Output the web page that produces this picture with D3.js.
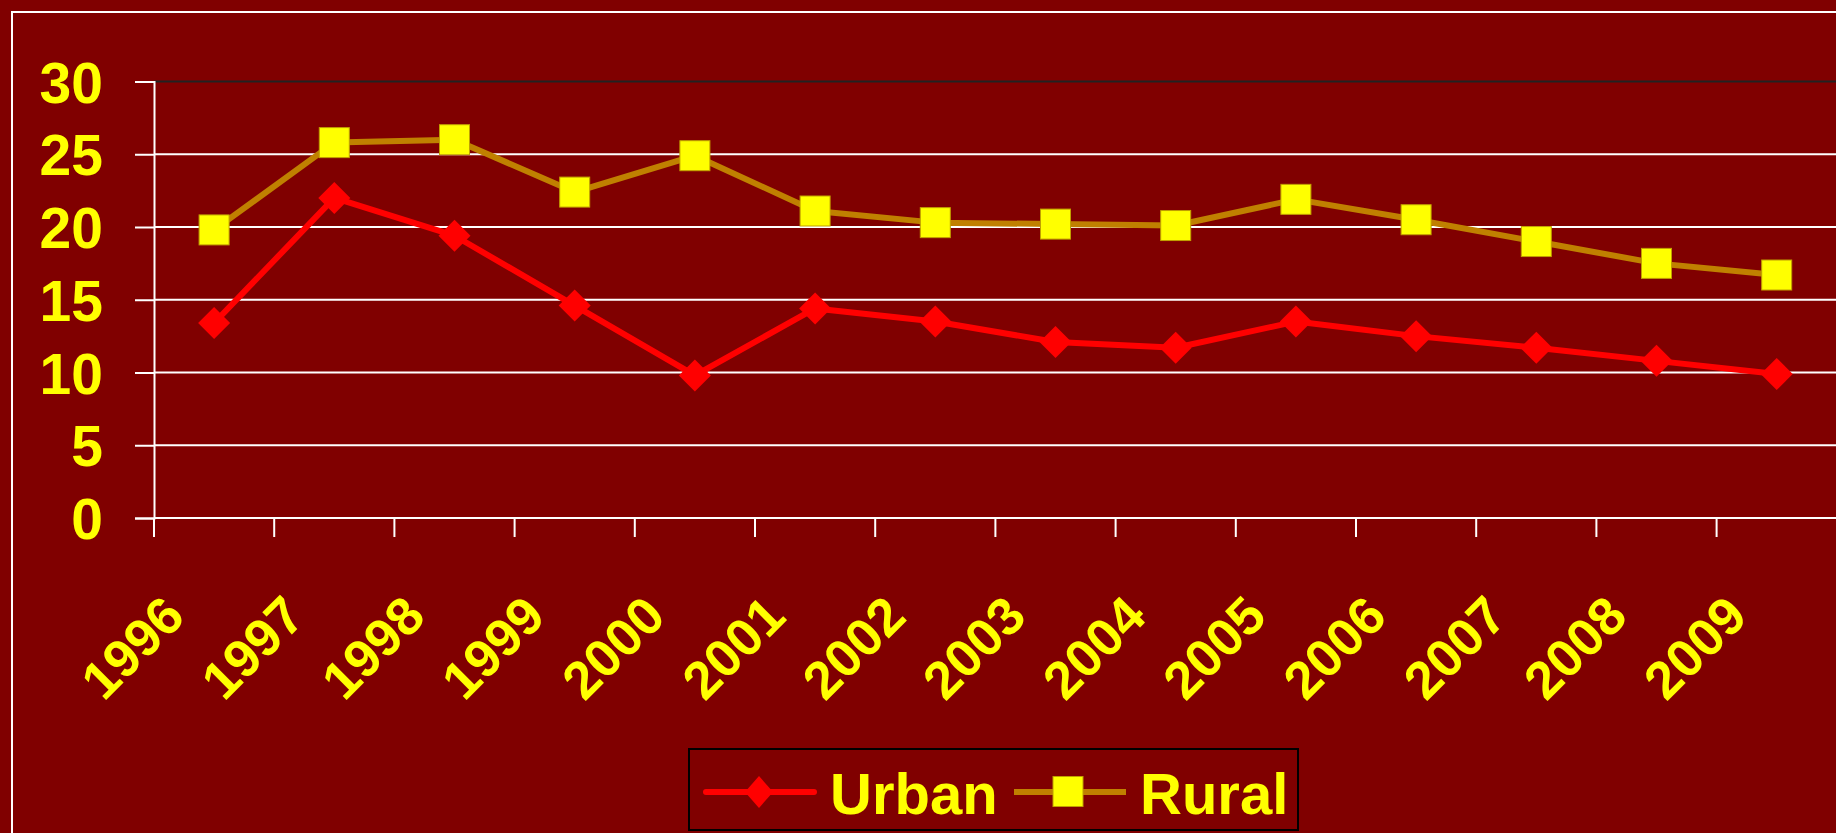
<!DOCTYPE html>
<html>
<head>
<meta charset="utf-8">
<script src="https://cdn.jsdelivr.net/npm/d3@7"></script>
<style>
  html, body { margin: 0; padding: 0; background: #800000; overflow: hidden; }
  text { font-family: "Liberation Sans", Arial, sans-serif; font-weight: bold; }
</style>
</head>
<body>
<div id="chart"></div>
<script>
var years = ["1996", "1997", "1998", "1999", "2000", "2001", "2002", "2003", "2004", "2005", "2006", "2007", "2008", "2009"];
var urban = [13.4, 22.0, 19.4, 14.6, 9.8, 14.4, 13.5, 12.1, 11.7, 13.5, 12.5, 11.7, 10.8, 9.9];
var rural = [19.8, 25.8, 26.0, 22.4, 24.9, 21.1, 20.3, 20.2, 20.1, 21.9, 20.5, 19.0, 17.5, 16.7];
var yTicks = [0, 5, 10, 15, 20, 25, 30];
var seriesNames = ["Urban", "Rural"];

var width = 1836;
var height = 833;
var plotLeft = 154;
var plotTop = 81.5;
var plotBottom = 518;

var yellow = "#ffff00";
var red = "#ff0000";
var gold = "#c08000";
var lineWidth = 6;

var svg = d3
  .select("#chart")
  .append("svg")
  .attr("width", width)
  .attr("height", height);

svg.append("rect").attr("width", width).attr("height", height).attr("fill", "#800000");

/* outer chart frame */
svg
  .append("rect")
  .attr("x", 12)
  .attr("y", 12)
  .attr("width", width + 20)
  .attr("height", height + 20)
  .attr("fill", "none")
  .attr("stroke", "#ffffff")
  .attr("stroke-width", 2);

/* Scale */
var xScale = d3.scaleBand().domain(years).range([plotLeft, plotLeft + years.length * 120.2]);
var yScale = d3.scaleLinear().domain([0, 30]).range([plotBottom, plotTop]);

/* grid */
svg
  .append("g")
  .selectAll("line")
  .data(yTicks.filter((d) => d > 0))
  .enter()
  .append("line")
  .attr("x1", plotLeft)
  .attr("x2", width)
  .attr("y1", (d) => yScale(d))
  .attr("y2", (d) => yScale(d))
  .attr("stroke", (d) => (d === 30 ? "#222222" : "#ffffff"))
  .attr("stroke-width", 2);

/* y axis */
var yAxis = d3.axisLeft(yScale).tickValues(yTicks).tickSize(19).tickPadding(32);
var yg = svg.append("g").attr("transform", `translate(${plotLeft},0)`).call(yAxis);
yg.select(".domain").attr("stroke", "#ffffff").attr("stroke-width", 2);
yg.selectAll(".tick line").attr("stroke", "#ffffff").attr("stroke-width", 2);
yg.selectAll(".tick text")
  .attr("fill", yellow)
  .attr("font-size", 57)
  .attr("font-family", "Liberation Sans, Arial, sans-serif")
  .attr("font-weight", "bold")
  .attr("dy", "0.36em");

/* x axis */
svg
  .append("line")
  .attr("x1", plotLeft)
  .attr("x2", width)
  .attr("y1", plotBottom)
  .attr("y2", plotBottom)
  .attr("stroke", "#ffffff")
  .attr("stroke-width", 2);

svg
  .append("g")
  .selectAll("line")
  .data(years)
  .enter()
  .append("line")
  .attr("x1", (d) => xScale(d))
  .attr("x2", (d) => xScale(d))
  .attr("y1", plotBottom)
  .attr("y2", plotBottom + 19)
  .attr("stroke", "#ffffff")
  .attr("stroke-width", 2);

var cx = (d) => xScale(d) + xScale.bandwidth() / 2;

svg
  .append("g")
  .selectAll("text")
  .data(years)
  .enter()
  .append("text")
  .attr("text-anchor", "end")
  .attr("font-size", 53)
  .attr("fill", yellow)
  .attr("transform", (d) => `translate(${cx(d) - 27},${plotBottom + 101}) rotate(-45)`)
  .text((d) => d);

/* lines */
var line = d3
  .line()
  .x((d, i) => cx(years[i]))
  .y((d) => yScale(d));

var diamond = "M0,-16L16,0L0,16L-16,0Z";

svg
  .append("path")
  .attr("d", line(urban))
  .attr("fill", "none")
  .attr("stroke", red)
  .attr("stroke-width", lineWidth)
  .attr("stroke-linejoin", "round");

svg
  .append("g")
  .selectAll("path")
  .data(urban)
  .enter()
  .append("path")
  .attr("d", diamond)
  .attr("transform", (d, i) => `translate(${cx(years[i])},${yScale(d)})`)
  .attr("fill", red);

svg
  .append("path")
  .attr("d", line(rural))
  .attr("fill", "none")
  .attr("stroke", gold)
  .attr("stroke-width", lineWidth)
  .attr("stroke-linejoin", "round");

svg
  .append("g")
  .selectAll("rect")
  .data(rural)
  .enter()
  .append("rect")
  .attr("x", (d, i) => cx(years[i]) - 15)
  .attr("y", (d) => yScale(d) - 15)
  .attr("width", 30)
  .attr("height", 30)
  .attr("fill", yellow)
  .attr("stroke", "#c0a000")
  .attr("stroke-width", 1);

/* legend */
var legend = svg.append("g");
legend
  .append("rect")
  .attr("x", 689)
  .attr("y", 749)
  .attr("width", 609)
  .attr("height", 81)
  .attr("fill", "#800000")
  .attr("stroke", "#000000")
  .attr("stroke-width", 2);

legend
  .append("line")
  .attr("x1", 706)
  .attr("x2", 814)
  .attr("y1", 792)
  .attr("y2", 792)
  .attr("stroke", red)
  .attr("stroke-width", 6)
  .attr("stroke-linecap", "round");
legend
  .append("path")
  .attr("d", "M0,-16L14,0L0,16L-14,0Z")
  .attr("transform", "translate(759,792)")
  .attr("fill", red);
legend
  .append("text")
  .attr("x", 830)
  .attr("y", 814)
  .attr("font-size", 58)
  .attr("fill", yellow)
  .text(seriesNames[0]);

legend
  .append("line")
  .attr("x1", 1014)
  .attr("x2", 1126)
  .attr("y1", 792)
  .attr("y2", 792)
  .attr("stroke", gold)
  .attr("stroke-width", 6);
legend
  .append("rect")
  .attr("x", 1053)
  .attr("y", 776.5)
  .attr("width", 30)
  .attr("height", 30)
  .attr("fill", yellow)
  .attr("stroke", "#c0a000")
  .attr("stroke-width", 1);
legend
  .append("text")
  .attr("x", 1140)
  .attr("y", 814)
  .attr("font-size", 58)
  .attr("fill", yellow)
  .text(seriesNames[1]);
</script>
</body>
</html>
